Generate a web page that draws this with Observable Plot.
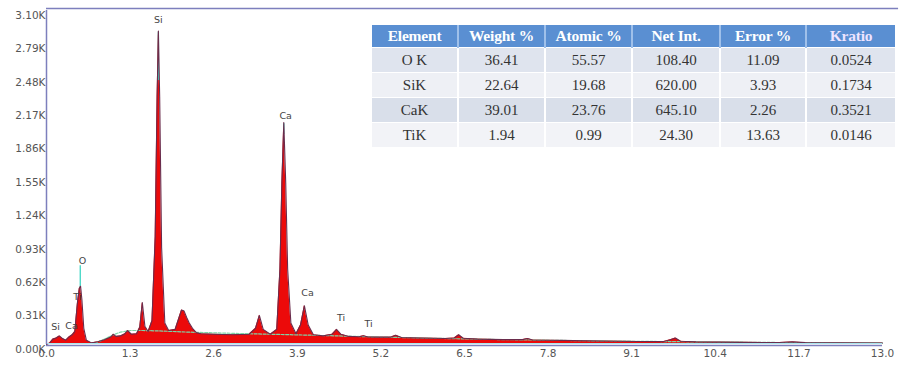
<!DOCTYPE html>
<html>
<head>
<meta charset="utf-8">
<script src="https://cdn.jsdelivr.net/npm/d3@7"></script>
<script src="https://cdn.jsdelivr.net/npm/@observablehq/plot@0.6"></script>
<style>
  html, body { margin: 0; padding: 0; background: #ffffff; }
  #wrap { position: relative; width: 904px; height: 370px; overflow: hidden; }
  #wrap svg { position: absolute; left: 0; top: 0; }
  table.eds { position: absolute; left: 372px; top: 25px; border-collapse: collapse;
    font-family: "Liberation Serif", "DejaVu Serif", serif; color: #333; }
  table.eds th { background: #5a8fd2; color: #ffffff; font-weight: bold; font-size: 15.5px;
    height: 22px; padding: 0; text-align: center; border-right: 2px solid #9fc0ea; letter-spacing: -0.2px; }
  table.eds th:last-child { border-right: none; color: #eee4ff; }
  table.eds td { font-size: 15px; height: 24px; padding: 0; text-align: center;
    border-right: 2px solid #ffffff; border-top: 1px solid #ffffff; }
  table.eds td:last-child { border-right: none; }
  table.eds tr.r0 td { background: #dfe4ee; }
  table.eds tr.r1 td { background: #eef0f5; }
  table.eds tr.r2 td { background: #d9dfea; }
  table.eds tr.r3 td { background: #f2f3f7; }
</style>
</head>
<body>
<div id="wrap"></div>
<script>
// ---- spectrum (keV, counts) ----
const energy = [0.00,0.05,0.10,0.15,0.20,0.25,0.30,0.35,0.40,0.44,0.48,0.51,0.53,0.55,0.58,0.62,0.70,0.80,0.90,1.00,1.04,1.08,1.15,1.22,1.26,1.32,1.40,1.45,1.49,1.53,1.58,1.64,1.69,1.72,1.74,1.76,1.79,1.84,1.90,2.00,2.05,2.10,2.14,2.18,2.22,2.27,2.33,2.40,2.60,2.90,3.15,3.25,3.31,3.37,3.48,3.58,3.63,3.66,3.69,3.72,3.75,3.80,3.88,3.95,4.01,4.07,4.15,4.30,4.44,4.51,4.58,4.70,4.86,4.93,5.00,5.20,5.35,5.43,5.52,5.80,6.20,6.34,6.41,6.48,6.70,7.10,7.40,7.48,7.56,8.00,8.60,9.20,9.60,9.70,9.78,9.86,10.10,10.80,11.40,11.60,11.80,12.30,13.00];
const counts = [0,15,50,60,80,55,40,70,90,120,380,520,540,420,150,40,15,25,45,70,95,75,80,100,130,95,100,160,390,170,120,220,1000,2300,2910,2300,900,200,130,140,230,320,310,250,200,150,110,100,95,90,95,150,270,140,95,140,700,1500,2060,1500,700,200,100,180,360,180,90,80,95,140,95,75,72,82,70,68,68,85,65,60,55,60,90,58,50,45,45,55,42,38,32,28,27,45,60,30,24,20,18,24,17,15,14];

// ---- fitted background (keV, counts) ----
const bgEnergy = [0.75,0.90,1.00,1.15,1.30,1.50,1.80,2.20,2.80,3.50,4.20,5.00,6.00,7.00,8.50,10.0,11.5,13.0];
const bgCounts = [10,50,80,115,130,130,125,115,105,95,85,72,58,46,34,25,18,14];

// ---- peak labels ----
const peakNames  = ["Si","Ca","O","Ti","Si","Ca","Ca","Ti","Ti"];
const peakEnergy = [1.74,3.72,0.56,0.48,0.14,0.39,4.06,4.58,5.01];
const peakLabelY = [3010,2125,780,445,160,170,480,250,195];

// ---- element marker lines (keV, from, to) ----
const markerEnergy = [1.74,3.69,0.525];
const markerFrom   = [2450,1950,520];
const markerTo     = [2900,2050,730];

// ---- axes ----
const xTicks = [0,1.3,2.6,3.9,5.2,6.5,7.8,9.1,10.4,11.7,13.0];
const yTicks = [0,310,620,930,1240,1550,1860,2170,2480,2790,3100];
const yTickLabels = ["0.00K","0.31K","0.62K","0.93K","1.24K","1.55K","1.86K","2.17K","2.48K","2.79K","3.10K"];

// ---- quantification table ----
const tableHeader = ["Element","Weight %","Atomic %","Net Int.","Error %","Kratio"];
const tableElements = ["O K","SiK","CaK","TiK"];
const weightPct = ["36.41","22.64","39.01","1.94"];
const atomicPct = ["55.57","19.68","23.76","0.99"];
const netInt    = ["108.40","620.00","645.10","24.30"];
const errorPct  = ["11.09","3.93","2.26","13.63"];
const kratio    = ["0.0524","0.1734","0.3521","0.0146"];
const colWidths = [85,85,85,86,84,88];

const spec = energy.map((e, i) => ({e, c: counts[i]}));
const bg = bgEnergy.map((e, i) => ({e, c: bgCounts[i]}));
const peaks = peakNames.map((n, i) => ({n, e: peakEnergy[i], c: peakLabelY[i]}));
const markers = markerEnergy.map((e, i) => ({e, c1: markerFrom[i], c2: markerTo[i]}));

const axisColor = "#7d7fbd";
const chart = Plot.plot({
  width: 904, height: 370,
  marginLeft: 46, marginRight: 22, marginTop: 10, marginBottom: 26,
  style: {fontFamily: "DejaVu Sans, sans-serif", background: "transparent"},
  x: {domain: [0, 13], label: null},
  y: {domain: [0, 3100], label: null},
  marks: [
    Plot.areaY(spec, {x: "e", y: "c", fill: "#ec0a0a"}),
    Plot.line(bg, {x: "e", y: "c", stroke: "#7ed3a6", strokeWidth: 1.2, strokeDasharray: "3,1.5"}),
    Plot.ruleX(markers, {x: "e", y1: "c1", y2: "c2", stroke: "#3fd6c4", strokeWidth: 1.3}),
    Plot.line(spec, {x: "e", y: "c", stroke: "#6a2c4c", strokeWidth: 1.1}),
    Plot.text(peaks, {x: "e", y: "c", text: "n", fill: "#444", fontSize: 9.5}),
    Plot.ruleY([0], {stroke: "#a9e6ee", strokeWidth: 1, dy: -1}),
    Plot.ruleY([0], {stroke: axisColor, strokeWidth: 1.3, dy: 1}),
    Plot.ruleX([0], {stroke: axisColor, strokeWidth: 1.5}),
    Plot.ruleY([3100], {x1: 0, x2: 13.25, stroke: axisColor, strokeWidth: 1.3, dy: -2}),
    Plot.axisX({ticks: xTicks, tickSize: 0, tickPadding: 5, tickFormat: d => d.toFixed(1),
      fontSize: 10.5, fill: "#555", label: null}),
    Plot.axisY({ticks: yTicks, tickSize: 0, tickPadding: 1,
      tickFormat: d => yTickLabels[yTicks.indexOf(d)], fontSize: 10.5, fill: "#555", dy: 5, label: null})
  ]
});
const wrap = document.getElementById("wrap");
wrap.appendChild(chart);

// table
const table = document.createElement("table");
table.className = "eds";
const hr = document.createElement("tr");
tableHeader.forEach((h, j) => {
  const th = document.createElement("th");
  th.textContent = h;
  th.style.width = colWidths[j] + "px";
  hr.appendChild(th);
});
table.appendChild(hr);
tableElements.forEach((el, i) => {
  const tr = document.createElement("tr");
  tr.className = "r" + i;
  [el, weightPct[i], atomicPct[i], netInt[i], errorPct[i], kratio[i]].forEach(v => {
    const td = document.createElement("td");
    td.textContent = v;
    tr.appendChild(td);
  });
  table.appendChild(tr);
});
wrap.appendChild(table);
</script>
</body>
</html>
